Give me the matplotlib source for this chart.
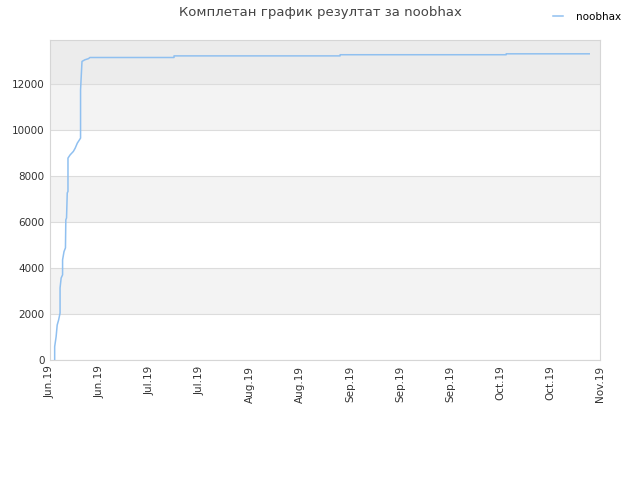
import numpy as np
import matplotlib
matplotlib.use("Agg")
import matplotlib.pyplot as plt

# score history (day offset from first tick, total score)
days = [1.3, 1.3, 1.7, 2.0, 2.4, 2.8, 2.8, 3.1, 3.5, 3.5, 3.9, 4.3, 4.4, 4.6, 4.8, 5.0,
        5.0, 5.6, 6.5, 7.0, 7.6, 8.2, 8.5, 8.5, 8.9, 9.7, 10.7, 11.1, 34.5, 34.5,
        80.7, 80.7, 126.9, 126.9, 150.0]
scores = [0, 580, 1010, 1520, 1740, 2040, 3130, 3560, 3700, 4350, 4710, 4870, 6090, 6170,
          7260, 7320, 8770, 8910, 9060, 9200, 9420, 9565, 9640, 11740, 12970, 13040,
          13090, 13140, 13140, 13210, 13210, 13260, 13260, 13300, 13300]

tick_labels = ["Jun.19", "Jun.19", "Jul.19", "Jul.19", "Aug.19", "Aug.19",
               "Sep.19", "Sep.19", "Sep.19", "Oct.19", "Oct.19", "Nov.19"]
yticks = [0, 2000, 4000, 6000, 8000, 10000, 12000]

x_end = 153
y_top = 13900

fig = plt.figure(figsize=(6.4, 4.8), dpi=100)
ax = fig.add_axes([50 / 640, 120 / 480, 550 / 640, 320 / 480])

# alternating background bands
for i in range(len(yticks)):
    lo = yticks[i]
    hi = yticks[i + 1] if i + 1 < len(yticks) else y_top
    if i == len(yticks) - 1:
        col = "#ececec"
    elif i % 2 == 1:
        col = "#f3f3f3"
    else:
        col = "#ffffff"
    ax.axhspan(lo, hi, color=col, zorder=0, lw=0)

ax.plot(days, scores, color="#90c0f0", lw=1.1, label="noobhax", zorder=3)

ax.set_xlim(0, x_end)
ax.set_ylim(0, y_top)
ax.set_yticks(yticks)
ax.set_yticklabels([str(v) for v in yticks])
ax.yaxis.grid(True, color="#dcdcdc", lw=0.8, zorder=1)
ax.set_axisbelow(True)
ax.set_xticks(np.linspace(0, x_end, len(tick_labels)))
ax.set_xticklabels(tick_labels, rotation=90)
ax.tick_params(length=0, labelsize=7.5, colors="#333333", pad=4)
for s in ax.spines.values():
    s.set_color("#d6d6d6")

fig.text(0.5, 0.973, "Комплетан график резултат за noobhax", ha="center", va="center",
         fontsize=9.5, color="#444444")
fig.legend(loc="upper right", bbox_to_anchor=(0.985, 0.995), frameon=False,
           fontsize=7.5, handlelength=1.0, handletextpad=1.2)

fig.savefig("out.png", dpi=100)
